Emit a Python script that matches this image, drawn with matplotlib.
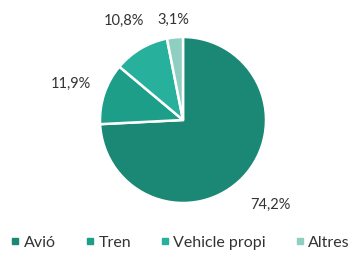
import numpy as np
import matplotlib.pyplot as plt
from matplotlib.lines import Line2D

categories = ['Avió', 'Tren', 'Vehicle propi', 'Altres']
values = [74.2, 11.9, 10.8, 3.1]
colors = ['#1a8874', '#1d9e89', '#27b09c', '#8fcfc1']
label_dist = [1.46, 1.42, 1.40, 1.22]

plt.rcParams['font.family'] = ['Lato', 'DejaVu Sans']

fig = plt.figure(figsize=(3.52, 2.55), dpi=100)
ax = fig.add_axes([100 / 352, 1 - 204 / 255, 166 / 352, 166 / 255])
wedges, _ = ax.pie(values, colors=colors, startangle=90, counterclock=False,
                   radius=1.0, wedgeprops=dict(edgecolor='white', linewidth=1.8))
ax.set_xlim(-1, 1)
ax.set_ylim(-1, 1)
ax.set_aspect('equal')
ax.axis('off')

for w, v, d in zip(wedges, values, label_dist):
    ang = np.deg2rad((w.theta1 + w.theta2) / 2)
    ax.text(d * np.cos(ang), d * np.sin(ang), f'{v:.1f}%'.replace('.', ','),
            ha='center', va='center', fontsize=10.5, color='#333333', clip_on=False)

handles = [Line2D([], [], marker='s', linestyle='none', markersize=5,
                  markerfacecolor=c, markeredgecolor=c) for c in colors]
fig.legend(handles, categories, loc='center', bbox_to_anchor=(0.51, 1 - 243 / 255),
           ncol=4, frameon=False, fontsize=11.5, handletextpad=0.15,
           columnspacing=1.7, handlelength=0.8, labelcolor='#333333')

fig.savefig('out.png', dpi=100)
